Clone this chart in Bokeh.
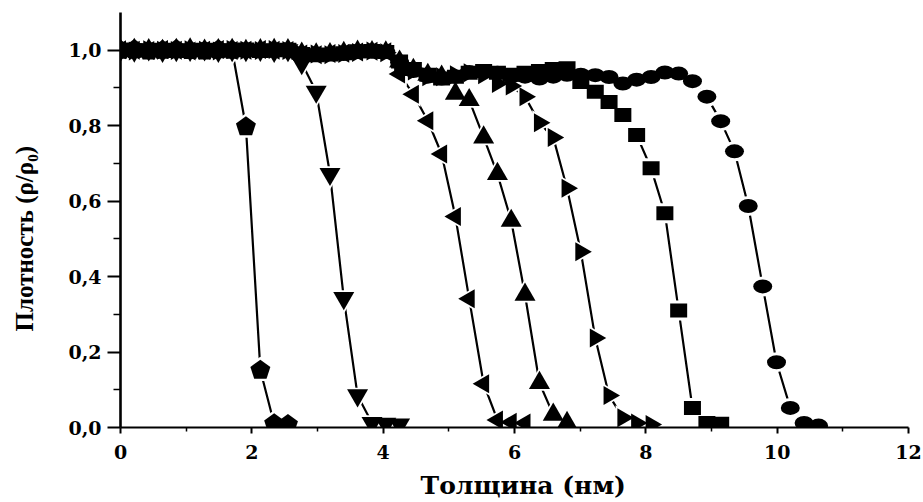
import math
from bokeh.plotting import figure
from bokeh.models import FixedTicker, ColumnDataSource, Range1d
from bokeh.embed import file_html
from bokeh.resources import INLINE

# ---------------- data ----------------
thickness = [0.00, 0.21, 0.43, 0.64, 0.85, 1.06, 1.28, 1.49, 1.70, 1.91,
             2.13, 2.34, 2.55, 2.76, 2.98, 3.19, 3.40, 3.61, 3.83, 4.04,
             4.25, 4.46, 4.68, 4.89, 5.10, 5.31, 5.53, 5.74, 5.95, 6.16,
             6.38, 6.59, 6.80, 7.01, 7.23, 7.44, 7.65, 7.86, 8.08, 8.29,
             8.50, 8.71, 8.93, 9.14, 9.35, 9.56, 9.78, 9.99, 10.20, 10.41,
             10.63]

pentagon_y = [1.000, 1.002, 0.998, 1.000, 1.002, 0.999, 0.998, 1.001, 1.000,
              0.797, 0.152, 0.010, 0.008]

down_tri_y = [1.000, 0.999, 1.002, 0.998, 1.000, 1.001, 1.002, 0.998, 1.000,
              1.000, 1.001, 0.998, 1.000, 0.966, 0.890, 0.672, 0.343, 0.085,
              0.012, 0.010, 0.008]

left_tri_y = [1.001, 1.000, 0.999, 1.002, 1.000, 0.998, 1.000, 1.002, 0.999,
              1.000, 1.002, 1.000, 0.999, 0.990, 0.988, 0.991, 0.992, 0.995,
              0.997, 0.996, 0.937, 0.883, 0.813, 0.725, 0.559, 0.341, 0.116,
              0.020, 0.014, 0.012]

up_tri_y = [0.999, 1.001, 1.000, 0.998, 1.001, 1.002, 0.999, 1.000, 1.001,
            0.998, 1.000, 1.001, 1.000, 0.991, 0.989, 0.990, 0.993, 0.996,
            0.995, 0.994, 0.970, 0.948, 0.935, 0.930, 0.885, 0.868, 0.769,
            0.672, 0.548, 0.352, 0.118, 0.034, 0.012]

right_tri_y = [1.000, 0.998, 1.001, 1.000, 0.999, 1.001, 1.000, 0.998, 1.002,
               1.000, 0.999, 1.002, 0.999, 0.989, 0.990, 0.988, 0.991, 0.994,
               0.998, 0.993, 0.965, 0.945, 0.930, 0.930, 0.935, 0.940, 0.935,
               0.912, 0.905, 0.877, 0.808, 0.769, 0.634, 0.466, 0.237, 0.085,
               0.026, 0.012, 0.008]

square_y = [1.002, 1.000, 0.999, 1.001, 0.998, 1.000, 1.001, 0.999, 1.000,
            1.002, 0.998, 1.000, 1.001, 0.990, 0.987, 0.989, 0.992, 0.997,
            0.998, 0.995, 0.970, 0.950, 0.935, 0.925, 0.930, 0.940, 0.945,
            0.940, 0.935, 0.940, 0.945, 0.950, 0.952, 0.916, 0.890, 0.863,
            0.828, 0.775, 0.687, 0.568, 0.310, 0.052, 0.012, 0.010]

circle_y = [0.999, 1.001, 1.000, 0.999, 1.001, 1.000, 0.998, 1.000, 1.001,
            1.000, 0.999, 1.000, 1.002, 0.988, 0.990, 0.990, 0.990, 0.995,
            0.996, 0.995, 0.968, 0.945, 0.930, 0.925, 0.930, 0.942, 0.945,
            0.940, 0.930, 0.930, 0.925, 0.930, 0.935, 0.935, 0.934, 0.929,
            0.912, 0.922, 0.929, 0.941, 0.938, 0.918, 0.877, 0.812, 0.732,
            0.587, 0.374, 0.173, 0.052, 0.012, 0.005]

x_ticks = [0, 2, 4, 6, 8, 10, 12]
x_minor_ticks = [1, 3, 5, 7, 9, 11]
y_ticks = [0.0, 0.2, 0.4, 0.6, 0.8, 1.0]
y_minor_ticks = [0.1, 0.3, 0.5, 0.7, 0.9]
y_tick_labels = ["0,0", "0,2", "0,4", "0,6", "0,8", "1,0"]
x_tick_labels = ["0", "2", "4", "6", "8", "10", "12"]

x_title = "Толщина (нм)"
y_title = "Плотность (ρ/ρ₀)"

# ---------------- figure ----------------
WIDE = "DejaVu Serif"
NARROW = "Liberation Serif"
p = figure(width=923, height=502, output_backend="svg", toolbar_location=None,
           x_range=Range1d(0, 12), y_range=Range1d(0, 1.1),
           min_border_left=120, min_border_right=15, min_border_top=12,
           min_border_bottom=74)
p.outline_line_color = None
p.xgrid.visible = False
p.ygrid.visible = False
p.background_fill_color = "white"

p.xaxis.ticker = FixedTicker(ticks=x_ticks, minor_ticks=x_minor_ticks)
p.yaxis.ticker = FixedTicker(ticks=y_ticks, minor_ticks=y_minor_ticks)
p.xaxis.major_label_overrides = {t: l for t, l in zip(x_ticks, x_tick_labels)}
p.yaxis.major_label_overrides = {t: l for t, l in zip(y_ticks, y_tick_labels)}

for ax in (p.xaxis, p.yaxis):
    ax.axis_line_color = "black"
    ax.major_tick_line_color = "black"
    ax.minor_tick_line_color = "black"
    ax.major_tick_in = 0
    ax.minor_tick_in = 0
    ax.major_label_text_font = WIDE
    ax.major_label_text_font_style = "bold"
    ax.major_label_text_font_size = "19px"
    ax.major_label_text_color = "black"
    ax.axis_label_text_font_style = "bold"
    ax.axis_label_text_color = "black"

p.yaxis.axis_line_width = 2.6
p.yaxis.major_tick_line_width = 2
p.yaxis.minor_tick_line_width = 1.5
p.yaxis.major_tick_out = 13
p.yaxis.minor_tick_out = 7
p.yaxis.major_label_standoff = 6
p.yaxis.axis_label = y_title + "\u2003\u2002"
p.yaxis.axis_label_text_font = NARROW
p.yaxis.axis_label_text_font_size = "25px"
p.yaxis.axis_label_standoff = 27

p.xaxis.axis_line_width = 2.2
p.xaxis.major_tick_line_width = 2
p.xaxis.minor_tick_line_width = 1.5
p.xaxis.major_tick_out = 6
p.xaxis.minor_tick_out = 4
p.xaxis.major_label_standoff = 11
p.xaxis.axis_label = "\u2002\u2009" + x_title
p.xaxis.axis_label_text_font = WIDE
p.xaxis.axis_label_text_font_size = "25px"
p.xaxis.axis_label_standoff = 9

# ---------------- series ----------------
series = [
    (pentagon_y, "pentagon"),
    (down_tri_y, "inverted_triangle"),
    (left_tri_y, "left"),
    (up_tri_y, "triangle"),
    (right_tri_y, "right"),
    (square_y, "square"),
    (circle_y, "circle"),
]

sources = []
for ys, kind in series:
    src = ColumnDataSource(dict(x=thickness[:len(ys)], y=ys))
    sources.append((src, kind))
    p.line("x", "y", source=src, line_color="black", line_width=2.2)


def draw_marker(src, kind, grow, color):
    if kind == "circle":
        p.ellipse("x", "y", width=19 + grow, height=14 + grow,
                  width_units="screen", height_units="screen", source=src,
                  fill_color=color, line_color=None)
    elif kind == "square":
        p.rect("x", "y", width=17 + grow, height=14 + grow,
               width_units="screen", height_units="screen", source=src,
               fill_color=color, line_color=None)
    elif kind == "pentagon":
        try:
            p.ngon("x", "y", radius=10.5 + grow / 2, n=5, angle=0,
                   radius_units="screen", source=src,
                   fill_color=color, line_color=None)
        except Exception:
            p.scatter("x", "y", marker="hex", size=19 + grow, source=src,
                      fill_color=color, line_color=None)
    elif kind == "left":
        p.scatter("x", "y", marker="triangle", angle=math.pi / 2, size=19 + grow,
                  source=src, fill_color=color, line_color=None)
    elif kind == "right":
        p.scatter("x", "y", marker="triangle", angle=-math.pi / 2, size=19 + grow,
                  source=src, fill_color=color, line_color=None)
    else:
        p.scatter("x", "y", marker=kind, size=21 + grow, source=src,
                  fill_color=color, line_color=None)


for src, kind in sources:
    draw_marker(src, kind, 6, "white")
for src, kind in sources:
    draw_marker(src, kind, 0, "black")

open("out.html", "w").write(file_html(p, INLINE))
